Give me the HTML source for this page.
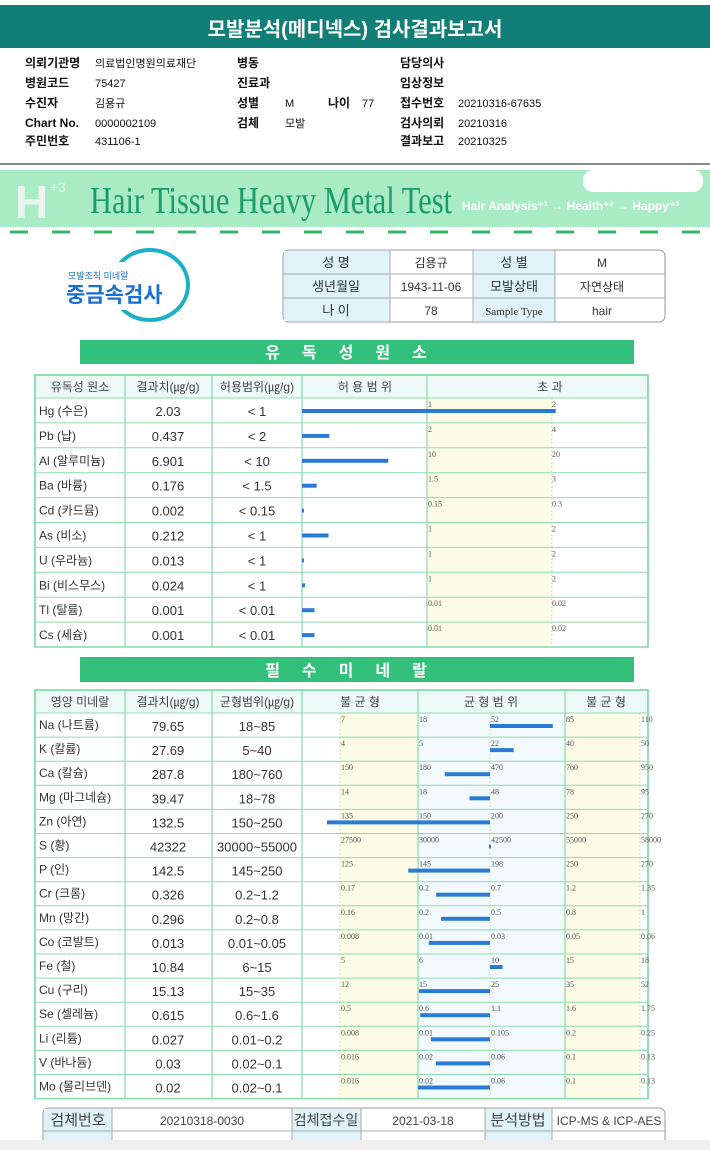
<!DOCTYPE html>
<html><head><meta charset="utf-8">
<style>
html,body{margin:0;padding:0;background:#fff;}
svg{display:block;font-family:"Liberation Sans","Noto Sans CJK KR",sans-serif;}
</style></head>
<body>
<svg id="page" width="710" height="1150" viewBox="0 0 710 1150" xmlns="http://www.w3.org/2000/svg">
<rect x="0" y="0" width="710" height="1150" fill="#fff"/>
<rect x="0" y="5" width="710" height="43" fill="#127e78"/>
<text x="355" y="36" text-anchor="middle" font-size="20" font-weight="bold" fill="#fff">모발분석(메디넥스) 검사결과보고서</text>
<g id="info" font-size="12" fill="#111"></g>
<rect x="0" y="163" width="710" height="2" fill="#888"/>
<rect x="0" y="170" width="710" height="57" fill="#a9ebc5"/>
<rect x="583" y="170" width="120" height="22" rx="10" fill="#fff"/>
<text x="15" y="218" font-size="46" font-weight="bold" fill="#e8f5ee" font-family="Liberation Sans">H</text>
<text x="50" y="192" font-size="14" fill="#e8f5ee">+3</text>
<text x="90" y="213" font-size="38" fill="#1b9a6a" font-family="Liberation Serif" textLength="362" lengthAdjust="spacingAndGlyphs">Hair Tissue Heavy Metal Test</text>
<text x="462" y="210" font-size="12" font-weight="bold" fill="#fff">Hair Analysis⁺¹ → Health⁺² → Happy⁺³</text>
<line x1="10" y1="232" x2="710" y2="232" stroke="#33b86a" stroke-width="3" stroke-dasharray="18,24"/>
<g>
<ellipse cx="150" cy="285" rx="38" ry="35" fill="none" stroke="#1cb0c8" stroke-width="4"/>
<rect x="60" y="262" width="90" height="48" fill="#fff"/>
<text x="68" y="279" font-size="9" fill="#1a6fcf">모발조직 미네랄</text>
<text x="66" y="302" font-size="21" font-weight="bold" fill="#1a6fcf">중금속검사</text>
</g>
<g id="ptable"></g>
<rect x="80" y="340" width="554" height="24" fill="#33c07a"/>
<text x="357" y="358" text-anchor="middle" font-size="16" font-weight="bold" fill="#fff" letter-spacing="22">유독성원소</text>
<g id="toxic"></g>
<rect x="80" y="657" width="554" height="25" fill="#33c07a"/>
<text x="357" y="676" text-anchor="middle" font-size="16" font-weight="bold" fill="#fff" letter-spacing="22">필수미네랄</text>
<g id="mineral"></g>
<g id="bottom"></g>
<rect x="0" y="1140" width="710" height="10" fill="#eeeeee"/>
</svg>
<script>
// Toxic element data
const toxNames=["Hg (수은)","Pb (납)","Al (알루미늄)","Ba (바륨)","Cd (카드뮴)","As (비소)","U (우라늄)","Bi (비스무스)","Tl (탈륨)","Cs (세슘)"];
const toxValues=[2.03,0.437,6.901,0.176,0.002,0.212,0.013,0.024,0.001,0.001];
const toxValueLabels=["2.03","0.437","6.901","0.176","0.002","0.212","0.013","0.024","0.001","0.001"];
const toxLimits=[1,2,10,1.5,0.15,1,1,1,0.01,0.01];
const toxLimitLabels=["< 1","< 2","< 10","< 1.5","< 0.15","< 1","< 1","< 1","< 0.01","< 0.01"];
const toxTick1=["1","2","10","1.5","0.15","1","1","1","0.01","0.01"];
const toxTick2=["2","4","20","3","0.3","2","2","2","0.02","0.02"];
// Mineral data
const minNames=["Na (나트륨)","K (칼륨)","Ca (칼슘)","Mg (마그네슘)","Zn (아연)","S (황)","P (인)","Cr (크롬)","Mn (망간)","Co (코발트)","Fe (철)","Cu (구리)","Se (셀레늄)","Li (리튬)","V (바나듐)","Mo (몰리브덴)"];
const minValues=[79.65,27.69,287.8,39.47,132.5,42322,142.5,0.326,0.296,0.013,10.84,15.13,0.615,0.027,0.03,0.02];
const minValueLabels=["79.65","27.69","287.8","39.47","132.5","42322","142.5","0.326","0.296","0.013","10.84","15.13","0.615","0.027","0.03","0.02"];
const minRanges=["18~85","5~40","180~760","18~78","150~250","30000~55000","145~250","0.2~1.2","0.2~0.8","0.01~0.05","6~15","15~35","0.6~1.6","0.01~0.2","0.02~0.1","0.02~0.1"];
const minTicks=[[7,18,52,85,110],[4,5,22,40,50],[150,180,470,760,950],[14,18,48,78,95],[135,150,200,250,270],[27500,30000,42500,55000,58000],[125,145,198,250,270],[0.17,0.2,0.7,1.2,1.35],[0.16,0.2,0.5,0.8,1],[0.008,0.01,0.03,0.05,0.06],[5,6,10,15,18],[12,15,25,35,52],[0.5,0.6,1.1,1.6,1.75],[0.008,0.01,0.105,0.2,0.25],[0.016,0.02,0.06,0.1,0.13],[0.016,0.02,0.06,0.1,0.13]];

const NS="http://www.w3.org/2000/svg";
function mk(parent,tag,attrs,txt){const e=document.createElementNS(NS,tag);for(const k in attrs)e.setAttribute(k,attrs[k]);if(txt!==undefined)e.textContent=txt;parent.appendChild(e);return e;}

// patient info block
const info=document.getElementById('info');
const infoItems=[[25,67,"의뢰기관명",1],[95,67,"의료법인명원의료재단",0],[237,67,"병동",1],[400,67,"담당의사",1],
[25,87,"병원코드",1],[95,87,"75427",0],[237,87,"진료과",1],[400,87,"임상정보",1],
[25,107,"수진자",1],[95,107,"김용규",0],[237,107,"성별",1],[285,107,"M",0],[328,107,"나이",1],[362,107,"77",0],[400,107,"접수번호",1],[458,107,"20210316-67635",0],
[25,127,"Chart No.",1],[95,127,"0000002109",0],[237,127,"검체",1],[285,127,"모발",0],[400,127,"검사의뢰",1],[458,127,"20210316",0],
[25,145,"주민번호",1],[95,145,"431106-1",0],[400,145,"결과보고",1],[458,145,"20210325",0]];
infoItems.forEach(it=>{const t=mk(info,'text',{x:it[0],y:it[1],'font-weight':it[3]?'bold':'normal','font-size':it[3]?12:11},it[2]);

});

// patient table
const pt=document.getElementById('ptable');
mk(pt,'rect',{x:283,y:250,width:382,height:72,rx:6,fill:'#fff',stroke:'#999'});
[[283,390],[473,555]].forEach(c=>mk(pt,'rect',{x:c[0]+1,y:251,width:c[1]-c[0]-1,height:70,fill:'#dff3f8'}));
[274,298].forEach(y=>mk(pt,'line',{x1:283,y1:y,x2:665,y2:y,stroke:'#aaa'}));
[390,473,555].forEach(x=>mk(pt,'line',{x1:x,y1:250,x2:x,y2:322,stroke:'#aaa'}));
const prow=[["성      명","김용규","성      별","M"],["생년월일","1943-11-06","모발상태","자연상태"],["나      이","78","Sample Type","hair"]];
prow.forEach((r,i)=>{const y=267+i*24;
 const a=mk(pt,'text',{x:336,y:y,'text-anchor':'middle','font-size':13,fill:'#333'},r[0]);
 const b=mk(pt,'text',{x:431,y:y,'text-anchor':'middle','font-size':12,fill:'#333'},r[1]);
 const c=mk(pt,'text',{x:514,y:y,'text-anchor':'middle','font-size':i==2?11:13,fill:'#333','font-family':i==2?'Liberation Serif':''},r[2]);
 const d=mk(pt,'text',{x:602,y:y,'text-anchor':'middle','font-size':12,fill:'#333'},r[3]);
});

// toxic chart
const tg=document.getElementById('toxic');
const tTop=375,tHead=23,tRow=24.9,tX0=302,tX1=427,tX2=552,tRight=648;
const tBottom=tTop+tHead+tRow*toxNames.length;
function toxX(v,lim){return tX0+(v/lim)*(tX1-tX0);}
mk(tg,'rect',{x:427,y:tTop+tHead,width:125,height:tBottom-tTop-tHead,fill:'#fbfbe6'});
mk(tg,'rect',{x:35,y:tTop,width:613,height:tHead,fill:'#eefaf7'});
mk(tg,'rect',{x:35,y:tTop,width:613,height:tBottom-tTop,fill:'none',stroke:'#6fd39b','stroke-width':1.5});
[125,212,302,427].forEach(x=>mk(tg,'line',{x1:x,y1:tTop,x2:x,y2:tBottom,stroke:'#6fd39b'}));
mk(tg,'line',{x1:552,y1:tTop+tHead,x2:552,y2:tBottom,stroke:'#cfe8a8','stroke-dasharray':'2,2'});
for(let i=0;i<=toxNames.length;i++){const y=tTop+tHead+i*tRow;mk(tg,'line',{x1:35,y1:y,x2:648,y2:y,stroke:'#8fdcb0'});}
[["유독성 원소",80],["결과치(㎍/g)",168],["허용범위(㎍/g)",257],["허 용 범 위",365],["초          과",550]].forEach(h=>{const t=mk(tg,'text',{x:h[1],y:tTop+16,'text-anchor':'middle','font-size':12,fill:'#444'},h[0]);});
toxNames.forEach((n,i)=>{const y=tTop+tHead+i*tRow;
 let t=mk(tg,'text',{x:39,y:y+17,'font-size':12,fill:'#333'},n);
 t=mk(tg,'text',{x:168,y:y+18,'text-anchor':'middle','font-size':13,fill:'#333'},toxValueLabels[i]);
 t=mk(tg,'text',{x:257,y:y+18,'text-anchor':'middle','font-size':13,fill:'#333'},toxLimitLabels[i]);
 t=mk(tg,'text',{x:428,y:y+9,'font-size':8,fill:'#555','font-family':'Liberation Serif'},toxTick1[i]);
 t=mk(tg,'text',{x:552,y:y+9,'font-size':8,fill:'#555','font-family':'Liberation Serif'},toxTick2[i]);
 const w=Math.max(2,toxX(toxValues[i],toxLimits[i])-tX0);
 const b=mk(tg,'rect',{x:tX0,y:y+11,width:w,height:4,fill:'#2a7bd6'});
});

// mineral chart
const mg=document.getElementById('mineral');
const mTop=690,mHead=23,mRow=24.1;
const tickPos=[340,418,490,565,640];
const mBottom=mTop+mHead+mRow*minNames.length;
function minX(v,ticks){
 let k=0; if(v<=ticks[0])k=0; else if(v>=ticks[4])k=3; else {while(k<3&&v>ticks[k+1])k++;}
 return tickPos[k]+(v-ticks[k])/(ticks[k+1]-ticks[k])*(tickPos[k+1]-tickPos[k]);
}
mk(mg,'rect',{x:340,y:mTop+mHead,width:78,height:mBottom-mTop-mHead,fill:'#fbfbe6'});
mk(mg,'rect',{x:418,y:mTop+mHead,width:147,height:mBottom-mTop-mHead,fill:'#f3fafd'});
mk(mg,'rect',{x:565,y:mTop+mHead,width:75,height:mBottom-mTop-mHead,fill:'#fbfbe6'});
mk(mg,'rect',{x:35,y:mTop,width:613,height:mHead,fill:'#eefaf7'});
mk(mg,'rect',{x:35,y:mTop,width:613,height:mBottom-mTop,fill:'none',stroke:'#6fd39b','stroke-width':1.5});
[125,212,302,418,565].forEach(x=>mk(mg,'line',{x1:x,y1:mTop,x2:x,y2:mBottom,stroke:'#6fd39b'}));
[340,490,640].forEach(x=>mk(mg,'line',{x1:x,y1:mTop+mHead,x2:x,y2:mBottom,stroke:'#cfe8a8','stroke-dasharray':'2,2'}));
for(let i=0;i<=minNames.length;i++){const y=mTop+mHead+i*mRow;mk(mg,'line',{x1:35,y1:y,x2:648,y2:y,stroke:'#8fdcb0'});}
[["영양 미네랄",80],["결과치(㎍/g)",168],["균형범위(㎍/g)",257],["불  균  형",360],["균  형  범  위",491],["불  균  형",606]].forEach(h=>{const t=mk(mg,'text',{x:h[1],y:mTop+16,'text-anchor':'middle','font-size':12,fill:'#444'},h[0]);});
minNames.forEach((n,i)=>{const y=mTop+mHead+i*mRow;
 let t=mk(mg,'text',{x:39,y:y+16,'font-size':12,fill:'#333'},n);
 t=mk(mg,'text',{x:168,y:y+18,'text-anchor':'middle','font-size':13,fill:'#333'},minValueLabels[i]);
 t=mk(mg,'text',{x:257,y:y+18,'text-anchor':'middle','font-size':13,fill:'#333'},minRanges[i]);
 minTicks[i].forEach((tv,k)=>{const tt=mk(mg,'text',{x:tickPos[k]+1,y:y+9,'font-size':8,fill:'#555','font-family':'Liberation Serif'},String(tv));});
 const xv=minX(minValues[i],minTicks[i]);const x0=Math.min(xv,490),w=Math.max(2,Math.abs(xv-490));
 const b=mk(mg,'rect',{x:x0,y:y+11,width:w,height:4,fill:'#2a7bd6'});
});

// bottom sample table
const bg=document.getElementById('bottom');
mk(bg,'rect',{x:43,y:1108,width:622,height:50,rx:6,fill:'#fff',stroke:'#999'});
[[44,112],[292,361],[485,552]].forEach(c=>mk(bg,'rect',{x:c[0],y:1109,width:c[1]-c[0],height:40,fill:'#dff3f8'}));
[112,292,361,485,552].forEach(x=>mk(bg,'line',{x1:x,y1:1108,x2:x,y2:1150,stroke:'#aaa'}));
mk(bg,'line',{x1:43,y1:1131,x2:665,y2:1131,stroke:'#aaa'});
[["검체번호",78,15],["20210318-0030",202,12],["검체접수일",326,14],["2021-03-18",423,12],["분석방법",518,15],["ICP-MS & ICP-AES",609,12]].forEach(c=>{const t=mk(bg,'text',{x:c[1],y:1125,'text-anchor':'middle','font-size':c[2],fill:'#444'},c[0]);});
</script>
</body></html>
